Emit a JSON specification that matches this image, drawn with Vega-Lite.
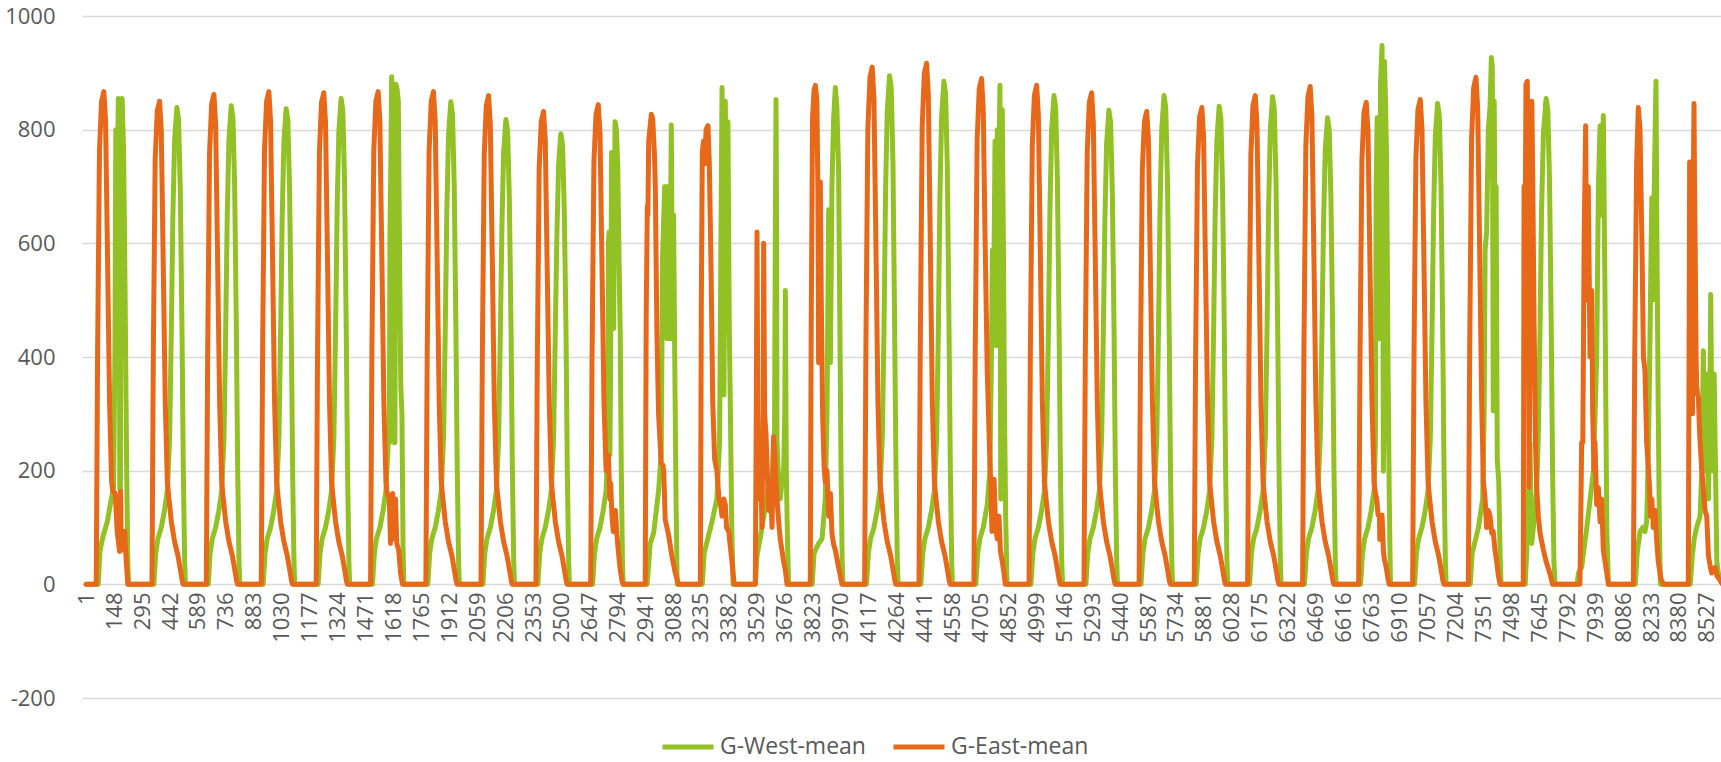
{
"$schema":"https://vega.github.io/schema/vega-lite/v6.json",
"width":1639,"height":682,
"autosize":{"type":"none"},
"padding":{"left":82,"right":0,"top":16,"bottom":64},
"background":"white",
"config":{"view":{"stroke":null},"font":"Open Sans","axisX":{"labelOverlap":false},"axisY":{"labelOverlap":false}},
"datasets":{
"west":[
{"x":1,"v":0},
{"x":64,"v":0},{"x":74,"v":60},{"x":90,"v":85},{"x":112,"v":110},{"x":133,"v":150},{"x":145,"v":170},{"x":152,"v":400},{"x":157,"v":800},{"x":163,"v":640},{"x":170,"v":855},{"x":175,"v":700},{"x":178,"v":167},{"x":181,"v":167},{"x":184,"v":830},{"x":190,"v":855},{"x":198,"v":760},{"x":206,"v":500},{"x":214,"v":200},{"x":220,"v":40},{"x":224,"v":0},
{"x":357,"v":0},{"x":367,"v":55},{"x":378,"v":80},{"x":396,"v":100},{"x":413,"v":130},{"x":428,"v":165},{"x":440,"v":260},{"x":449,"v":450},{"x":457,"v":646},{"x":466,"v":780},{"x":478,"v":839},{"x":487,"v":818},{"x":496,"v":696},{"x":505,"v":450},{"x":512,"v":200},{"x":519,"v":40},{"x":523,"v":0},
{"x":643,"v":0},{"x":653,"v":55},{"x":664,"v":80},{"x":682,"v":100},{"x":699,"v":130},{"x":714,"v":165},{"x":726,"v":260},{"x":735,"v":450},{"x":743,"v":648},{"x":752,"v":783},{"x":764,"v":842},{"x":773,"v":821},{"x":782,"v":699},{"x":791,"v":450},{"x":798,"v":200},{"x":805,"v":40},{"x":809,"v":0},
{"x":932,"v":0},{"x":942,"v":55},{"x":953,"v":80},{"x":971,"v":100},{"x":988,"v":130},{"x":1003,"v":165},{"x":1015,"v":260},{"x":1024,"v":450},{"x":1032,"v":644},{"x":1041,"v":778},{"x":1053,"v":837},{"x":1062,"v":816},{"x":1071,"v":695},{"x":1080,"v":450},{"x":1087,"v":200},{"x":1094,"v":40},{"x":1098,"v":0},
{"x":1221,"v":0},{"x":1231,"v":55},{"x":1242,"v":80},{"x":1260,"v":100},{"x":1277,"v":130},{"x":1292,"v":165},{"x":1304,"v":260},{"x":1313,"v":450},{"x":1321,"v":658},{"x":1330,"v":795},{"x":1342,"v":855},{"x":1351,"v":834},{"x":1360,"v":710},{"x":1369,"v":450},{"x":1376,"v":200},{"x":1383,"v":40},{"x":1387,"v":0},
{"x":1507,"v":0},{"x":1517,"v":55},{"x":1528,"v":80},{"x":1546,"v":100},{"x":1563,"v":130},{"x":1578,"v":165},{"x":1590,"v":250},{"x":1596,"v":249},{"x":1599,"v":620},{"x":1604,"v":750},{"x":1608,"v":893},{"x":1613,"v":850},{"x":1619,"v":880},{"x":1622,"v":249},{"x":1625,"v":249},{"x":1630,"v":880},{"x":1637,"v":870},{"x":1643,"v":850},{"x":1650,"v":560},{"x":1656,"v":350},{"x":1662,"v":300},{"x":1668,"v":60},{"x":1672,"v":0},
{"x":1798,"v":0},{"x":1808,"v":55},{"x":1819,"v":80},{"x":1837,"v":100},{"x":1854,"v":130},{"x":1869,"v":165},{"x":1881,"v":260},{"x":1890,"v":450},{"x":1898,"v":654},{"x":1907,"v":790},{"x":1919,"v":849},{"x":1928,"v":828},{"x":1937,"v":705},{"x":1946,"v":450},{"x":1953,"v":200},{"x":1960,"v":40},{"x":1964,"v":0},
{"x":2088,"v":0},{"x":2098,"v":55},{"x":2109,"v":80},{"x":2127,"v":100},{"x":2144,"v":130},{"x":2159,"v":165},{"x":2171,"v":260},{"x":2180,"v":450},{"x":2188,"v":630},{"x":2197,"v":761},{"x":2209,"v":818},{"x":2218,"v":798},{"x":2227,"v":679},{"x":2236,"v":450},{"x":2243,"v":200},{"x":2250,"v":40},{"x":2254,"v":0},
{"x":2377,"v":0},{"x":2387,"v":55},{"x":2398,"v":80},{"x":2416,"v":100},{"x":2433,"v":130},{"x":2448,"v":165},{"x":2460,"v":260},{"x":2469,"v":450},{"x":2477,"v":611},{"x":2486,"v":737},{"x":2498,"v":793},{"x":2507,"v":773},{"x":2516,"v":658},{"x":2525,"v":450},{"x":2532,"v":200},{"x":2539,"v":40},{"x":2543,"v":0},
{"x":2665,"v":0},{"x":2675,"v":55},{"x":2686,"v":80},{"x":2704,"v":100},{"x":2721,"v":130},{"x":2736,"v":165},{"x":2746,"v":250},{"x":2748,"v":600},{"x":2752,"v":620},{"x":2756,"v":228},{"x":2760,"v":400},{"x":2765,"v":760},{"x":2770,"v":700},{"x":2776,"v":450},{"x":2783,"v":814},{"x":2790,"v":800},{"x":2797,"v":740},{"x":2803,"v":600},{"x":2810,"v":450},{"x":2816,"v":200},{"x":2822,"v":40},{"x":2826,"v":0},
{"x":2952,"v":0},{"x":2968,"v":72},{"x":2986,"v":90},{"x":3012,"v":164},{"x":3026,"v":230},{"x":3033,"v":574},{"x":3044,"v":700},{"x":3050,"v":560},{"x":3056,"v":432},{"x":3062,"v":700},{"x":3070,"v":432},{"x":3079,"v":808},{"x":3086,"v":432},{"x":3091,"v":650},{"x":3097,"v":400},{"x":3104,"v":150},{"x":3110,"v":0},
{"x":3242,"v":0},{"x":3252,"v":55},{"x":3267,"v":75},{"x":3293,"v":110},{"x":3319,"v":150},{"x":3333,"v":250},{"x":3340,"v":600},{"x":3346,"v":874},{"x":3351,"v":700},{"x":3356,"v":333},{"x":3363,"v":850},{"x":3368,"v":650},{"x":3373,"v":700},{"x":3377,"v":814},{"x":3384,"v":450},{"x":3390,"v":300},{"x":3397,"v":100},{"x":3404,"v":0},
{"x":3521,"v":0},{"x":3530,"v":50},{"x":3556,"v":100},{"x":3580,"v":150},{"x":3591,"v":180},{"x":3600,"v":130},{"x":3609,"v":180},{"x":3617,"v":250},{"x":3622,"v":250},{"x":3626,"v":600},{"x":3630,"v":853},{"x":3633,"v":600},{"x":3635,"v":250},{"x":3644,"v":180},{"x":3652,"v":150},{"x":3661,"v":180},{"x":3670,"v":200},{"x":3676,"v":300},{"x":3679,"v":517},{"x":3684,"v":200},{"x":3690,"v":80},{"x":3696,"v":0},
{"x":3820,"v":0},{"x":3830,"v":55},{"x":3854,"v":72},{"x":3872,"v":80},{"x":3889,"v":150},{"x":3898,"v":300},{"x":3907,"v":659},{"x":3916,"v":390},{"x":3924,"v":700},{"x":3933,"v":820},{"x":3942,"v":874},{"x":3950,"v":840},{"x":3959,"v":729},{"x":3966,"v":450},{"x":3972,"v":200},{"x":3978,"v":40},{"x":3982,"v":0},
{"x":4106,"v":0},{"x":4116,"v":55},{"x":4127,"v":80},{"x":4145,"v":100},{"x":4162,"v":130},{"x":4177,"v":165},{"x":4189,"v":260},{"x":4198,"v":450},{"x":4206,"v":689},{"x":4215,"v":832},{"x":4227,"v":895},{"x":4236,"v":873},{"x":4245,"v":743},{"x":4254,"v":450},{"x":4261,"v":200},{"x":4268,"v":40},{"x":4272,"v":0},
{"x":4392,"v":0},{"x":4402,"v":55},{"x":4413,"v":80},{"x":4431,"v":100},{"x":4448,"v":130},{"x":4463,"v":165},{"x":4475,"v":260},{"x":4484,"v":450},{"x":4492,"v":681},{"x":4501,"v":823},{"x":4513,"v":885},{"x":4522,"v":863},{"x":4531,"v":735},{"x":4540,"v":450},{"x":4547,"v":200},{"x":4554,"v":40},{"x":4558,"v":0},
{"x":4681,"v":0},{"x":4691,"v":55},{"x":4702,"v":80},{"x":4720,"v":100},{"x":4741,"v":140},{"x":4755,"v":200},{"x":4763,"v":400},{"x":4768,"v":588},{"x":4775,"v":500},{"x":4782,"v":780},{"x":4788,"v":420},{"x":4794,"v":800},{"x":4801,"v":700},{"x":4808,"v":878},{"x":4812,"v":150},{"x":4816,"v":150},{"x":4820,"v":835},{"x":4826,"v":600},{"x":4832,"v":300},{"x":4838,"v":120},{"x":4845,"v":0},
{"x":4971,"v":0},{"x":4981,"v":55},{"x":4992,"v":80},{"x":5010,"v":100},{"x":5027,"v":130},{"x":5042,"v":165},{"x":5054,"v":260},{"x":5063,"v":450},{"x":5071,"v":662},{"x":5080,"v":800},{"x":5092,"v":860},{"x":5101,"v":839},{"x":5110,"v":714},{"x":5119,"v":450},{"x":5126,"v":200},{"x":5133,"v":40},{"x":5137,"v":0},
{"x":5260,"v":0},{"x":5270,"v":55},{"x":5281,"v":80},{"x":5299,"v":100},{"x":5316,"v":130},{"x":5331,"v":165},{"x":5343,"v":260},{"x":5352,"v":450},{"x":5360,"v":642},{"x":5369,"v":776},{"x":5381,"v":834},{"x":5390,"v":813},{"x":5399,"v":692},{"x":5408,"v":450},{"x":5415,"v":200},{"x":5422,"v":40},{"x":5426,"v":0},
{"x":5550,"v":0},{"x":5560,"v":55},{"x":5571,"v":80},{"x":5589,"v":100},{"x":5606,"v":130},{"x":5621,"v":165},{"x":5633,"v":260},{"x":5642,"v":450},{"x":5650,"v":662},{"x":5659,"v":800},{"x":5671,"v":860},{"x":5680,"v":839},{"x":5689,"v":714},{"x":5698,"v":450},{"x":5705,"v":200},{"x":5712,"v":40},{"x":5716,"v":0},
{"x":5840,"v":0},{"x":5850,"v":55},{"x":5861,"v":80},{"x":5879,"v":100},{"x":5896,"v":130},{"x":5911,"v":165},{"x":5923,"v":260},{"x":5932,"v":450},{"x":5940,"v":648},{"x":5949,"v":782},{"x":5961,"v":841},{"x":5970,"v":820},{"x":5979,"v":698},{"x":5988,"v":450},{"x":5995,"v":200},{"x":6002,"v":40},{"x":6006,"v":0},
{"x":6121,"v":0},{"x":6131,"v":55},{"x":6142,"v":80},{"x":6160,"v":100},{"x":6177,"v":130},{"x":6192,"v":165},{"x":6204,"v":260},{"x":6213,"v":450},{"x":6221,"v":661},{"x":6230,"v":798},{"x":6242,"v":858},{"x":6251,"v":837},{"x":6260,"v":712},{"x":6269,"v":450},{"x":6276,"v":200},{"x":6283,"v":40},{"x":6287,"v":0},
{"x":6410,"v":0},{"x":6420,"v":55},{"x":6431,"v":80},{"x":6449,"v":100},{"x":6466,"v":130},{"x":6481,"v":165},{"x":6493,"v":260},{"x":6502,"v":450},{"x":6510,"v":632},{"x":6519,"v":764},{"x":6531,"v":821},{"x":6540,"v":800},{"x":6549,"v":681},{"x":6558,"v":450},{"x":6565,"v":200},{"x":6572,"v":40},{"x":6576,"v":0},
{"x":6705,"v":0},{"x":6715,"v":55},{"x":6726,"v":80},{"x":6744,"v":100},{"x":6761,"v":130},{"x":6776,"v":165},{"x":6783,"v":250},{"x":6787,"v":700},{"x":6792,"v":821},{"x":6797,"v":600},{"x":6804,"v":432},{"x":6810,"v":880},{"x":6818,"v":948},{"x":6822,"v":600},{"x":6825,"v":199},{"x":6828,"v":300},{"x":6831,"v":920},{"x":6836,"v":850},{"x":6842,"v":743},{"x":6849,"v":400},{"x":6856,"v":150},{"x":6862,"v":0},
{"x":6989,"v":0},{"x":6999,"v":55},{"x":7010,"v":80},{"x":7028,"v":100},{"x":7045,"v":130},{"x":7060,"v":165},{"x":7072,"v":260},{"x":7081,"v":450},{"x":7089,"v":651},{"x":7098,"v":787},{"x":7110,"v":846},{"x":7119,"v":825},{"x":7128,"v":702},{"x":7137,"v":450},{"x":7144,"v":200},{"x":7151,"v":40},{"x":7155,"v":0},
{"x":7282,"v":0},{"x":7292,"v":55},{"x":7307,"v":75},{"x":7325,"v":100},{"x":7347,"v":150},{"x":7355,"v":300},{"x":7360,"v":588},{"x":7368,"v":620},{"x":7377,"v":800},{"x":7386,"v":840},{"x":7393,"v":927},{"x":7398,"v":910},{"x":7403,"v":305},{"x":7408,"v":850},{"x":7413,"v":539},{"x":7418,"v":700},{"x":7424,"v":220},{"x":7432,"v":180},{"x":7439,"v":50},{"x":7444,"v":0},
{"x":7571,"v":0},{"x":7582,"v":80},{"x":7589,"v":164},{"x":7596,"v":250},{"x":7605,"v":72},{"x":7614,"v":100},{"x":7623,"v":130},{"x":7631,"v":165},{"x":7640,"v":260},{"x":7649,"v":450},{"x":7657,"v":658},{"x":7667,"v":795},{"x":7681,"v":855},{"x":7690,"v":834},{"x":7699,"v":710},{"x":7708,"v":450},{"x":7715,"v":200},{"x":7722,"v":40},{"x":7728,"v":0},
{"x":7845,"v":0},{"x":7851,"v":20},{"x":7868,"v":30},{"x":7895,"v":100},{"x":7930,"v":200},{"x":7947,"v":400},{"x":7956,"v":700},{"x":7965,"v":807},{"x":7973,"v":650},{"x":7982,"v":825},{"x":7991,"v":500},{"x":8000,"v":100},{"x":8009,"v":0},
{"x":8150,"v":0},{"x":8160,"v":55},{"x":8175,"v":93},{"x":8190,"v":100},{"x":8201,"v":93},{"x":8210,"v":110},{"x":8220,"v":250},{"x":8230,"v":500},{"x":8237,"v":680},{"x":8242,"v":500},{"x":8250,"v":700},{"x":8259,"v":885},{"x":8264,"v":600},{"x":8271,"v":300},{"x":8277,"v":100},{"x":8282,"v":0},
{"x":8439,"v":0},{"x":8450,"v":50},{"x":8460,"v":80},{"x":8473,"v":100},{"x":8491,"v":120},{"x":8500,"v":200},{"x":8508,"v":411},{"x":8513,"v":250},{"x":8517,"v":200},{"x":8522,"v":330},{"x":8526,"v":370},{"x":8531,"v":200},{"x":8535,"v":150},{"x":8542,"v":300},{"x":8547,"v":510},{"x":8552,"v":300},{"x":8558,"v":200},{"x":8565,"v":370},{"x":8570,"v":250},{"x":8579,"v":40},{"x":8587,"v":20},{"x":8596,"v":10},{"x":8610,"v":0}
],
"east":[
{"x":1,"v":0},
{"x":54,"v":0},{"x":61,"v":407},{"x":71,"v":763},{"x":82,"v":850},{"x":94,"v":867},{"x":103,"v":815},{"x":112,"v":607},{"x":124,"v":320},{"x":135,"v":180},{"x":141,"v":164},{"x":154,"v":160},{"x":164,"v":93},{"x":177,"v":58},{"x":182,"v":164},{"x":186,"v":60},{"x":195,"v":90},{"x":203,"v":93},{"x":212,"v":40},{"x":220,"v":0},
{"x":347,"v":0},{"x":354,"v":400},{"x":364,"v":748},{"x":375,"v":833},{"x":387,"v":850},{"x":396,"v":799},{"x":405,"v":595},{"x":417,"v":320},{"x":428,"v":180},{"x":435,"v":155},{"x":449,"v":110},{"x":466,"v":75},{"x":484,"v":50},{"x":497,"v":25},{"x":507,"v":5},{"x":512,"v":0},
{"x":633,"v":0},{"x":640,"v":405},{"x":650,"v":759},{"x":661,"v":845},{"x":673,"v":862},{"x":682,"v":810},{"x":691,"v":603},{"x":703,"v":320},{"x":714,"v":180},{"x":721,"v":155},{"x":735,"v":110},{"x":752,"v":75},{"x":770,"v":50},{"x":783,"v":25},{"x":793,"v":5},{"x":798,"v":0},
{"x":922,"v":0},{"x":929,"v":407},{"x":939,"v":763},{"x":950,"v":850},{"x":962,"v":867},{"x":971,"v":815},{"x":980,"v":607},{"x":992,"v":320},{"x":1003,"v":180},{"x":1010,"v":155},{"x":1024,"v":110},{"x":1041,"v":75},{"x":1059,"v":50},{"x":1072,"v":25},{"x":1082,"v":5},{"x":1087,"v":0},
{"x":1211,"v":0},{"x":1218,"v":407},{"x":1228,"v":761},{"x":1239,"v":848},{"x":1251,"v":865},{"x":1260,"v":813},{"x":1269,"v":606},{"x":1281,"v":320},{"x":1292,"v":180},{"x":1299,"v":155},{"x":1313,"v":110},{"x":1330,"v":75},{"x":1348,"v":50},{"x":1361,"v":25},{"x":1371,"v":5},{"x":1376,"v":0},
{"x":1497,"v":0},{"x":1504,"v":407},{"x":1514,"v":763},{"x":1525,"v":850},{"x":1537,"v":867},{"x":1546,"v":815},{"x":1555,"v":607},{"x":1567,"v":320},{"x":1578,"v":180},{"x":1585,"v":157},{"x":1595,"v":157},{"x":1602,"v":72},{"x":1608,"v":150},{"x":1613,"v":160},{"x":1620,"v":80},{"x":1628,"v":150},{"x":1635,"v":72},{"x":1645,"v":60},{"x":1655,"v":20},{"x":1665,"v":0},
{"x":1788,"v":0},{"x":1795,"v":407},{"x":1805,"v":763},{"x":1816,"v":850},{"x":1828,"v":867},{"x":1837,"v":815},{"x":1846,"v":607},{"x":1858,"v":320},{"x":1869,"v":180},{"x":1876,"v":155},{"x":1890,"v":110},{"x":1907,"v":75},{"x":1925,"v":50},{"x":1938,"v":25},{"x":1948,"v":5},{"x":1953,"v":0},
{"x":2078,"v":0},{"x":2085,"v":404},{"x":2095,"v":757},{"x":2106,"v":843},{"x":2118,"v":860},{"x":2127,"v":808},{"x":2136,"v":602},{"x":2148,"v":320},{"x":2159,"v":180},{"x":2166,"v":155},{"x":2180,"v":110},{"x":2197,"v":75},{"x":2215,"v":50},{"x":2228,"v":25},{"x":2238,"v":5},{"x":2243,"v":0},
{"x":2367,"v":0},{"x":2374,"v":391},{"x":2384,"v":732},{"x":2395,"v":815},{"x":2407,"v":832},{"x":2416,"v":782},{"x":2425,"v":582},{"x":2437,"v":320},{"x":2448,"v":180},{"x":2455,"v":155},{"x":2469,"v":110},{"x":2486,"v":75},{"x":2504,"v":50},{"x":2517,"v":25},{"x":2527,"v":5},{"x":2532,"v":0},
{"x":2655,"v":0},{"x":2662,"v":397},{"x":2672,"v":743},{"x":2683,"v":827},{"x":2695,"v":844},{"x":2704,"v":793},{"x":2713,"v":591},{"x":2725,"v":320},{"x":2736,"v":200},{"x":2748,"v":228},{"x":2756,"v":150},{"x":2760,"v":178},{"x":2767,"v":120},{"x":2774,"v":93},{"x":2785,"v":130},{"x":2792,"v":90},{"x":2800,"v":60},{"x":2809,"v":30},{"x":2820,"v":5},{"x":2826,"v":0},
{"x":2942,"v":0},{"x":2944,"v":200},{"x":2947,"v":475},{"x":2953,"v":666},{"x":2956,"v":650},{"x":2960,"v":780},{"x":2974,"v":827},{"x":2981,"v":820},{"x":2990,"v":760},{"x":2995,"v":700},{"x":3003,"v":450},{"x":3012,"v":300},{"x":3026,"v":213},{"x":3035,"v":210},{"x":3039,"v":200},{"x":3047,"v":114},{"x":3065,"v":86},{"x":3082,"v":50},{"x":3100,"v":20},{"x":3117,"v":0},
{"x":3232,"v":0},{"x":3237,"v":500},{"x":3242,"v":760},{"x":3249,"v":780},{"x":3256,"v":740},{"x":3262,"v":800},{"x":3272,"v":807},{"x":3279,"v":740},{"x":3288,"v":560},{"x":3297,"v":320},{"x":3307,"v":220},{"x":3319,"v":199},{"x":3330,"v":150},{"x":3337,"v":143},{"x":3346,"v":120},{"x":3355,"v":150},{"x":3363,"v":140},{"x":3370,"v":100},{"x":3381,"v":93},{"x":3398,"v":40},{"x":3410,"v":0},
{"x":3521,"v":0},{"x":3526,"v":300},{"x":3530,"v":620},{"x":3534,"v":300},{"x":3539,"v":150},{"x":3547,"v":250},{"x":3556,"v":100},{"x":3562,"v":300},{"x":3565,"v":600},{"x":3570,"v":300},{"x":3577,"v":265},{"x":3584,"v":200},{"x":3591,"v":130},{"x":3600,"v":180},{"x":3609,"v":100},{"x":3617,"v":260},{"x":3626,"v":210},{"x":3635,"v":150},{"x":3644,"v":110},{"x":3652,"v":80},{"x":3661,"v":60},{"x":3670,"v":40},{"x":3679,"v":25},{"x":3688,"v":0},
{"x":3810,"v":0},{"x":3815,"v":450},{"x":3822,"v":820},{"x":3830,"v":870},{"x":3837,"v":878},{"x":3845,"v":850},{"x":3850,"v":700},{"x":3854,"v":390},{"x":3858,"v":600},{"x":3863,"v":708},{"x":3868,"v":500},{"x":3875,"v":300},{"x":3883,"v":206},{"x":3889,"v":180},{"x":3898,"v":200},{"x":3907,"v":120},{"x":3916,"v":160},{"x":3924,"v":90},{"x":3933,"v":70},{"x":3942,"v":60},{"x":3959,"v":30},{"x":3977,"v":0},
{"x":4096,"v":0},{"x":4103,"v":428},{"x":4113,"v":801},{"x":4124,"v":892},{"x":4136,"v":910},{"x":4145,"v":855},{"x":4154,"v":637},{"x":4166,"v":320},{"x":4177,"v":180},{"x":4184,"v":155},{"x":4198,"v":110},{"x":4215,"v":75},{"x":4233,"v":50},{"x":4246,"v":25},{"x":4256,"v":5},{"x":4261,"v":0},
{"x":4382,"v":0},{"x":4389,"v":431},{"x":4399,"v":807},{"x":4410,"v":899},{"x":4422,"v":917},{"x":4431,"v":862},{"x":4440,"v":642},{"x":4452,"v":320},{"x":4463,"v":180},{"x":4470,"v":155},{"x":4484,"v":110},{"x":4501,"v":75},{"x":4519,"v":50},{"x":4532,"v":25},{"x":4542,"v":5},{"x":4547,"v":0},
{"x":4671,"v":0},{"x":4678,"v":420},{"x":4688,"v":783},{"x":4699,"v":872},{"x":4711,"v":890},{"x":4720,"v":837},{"x":4729,"v":623},{"x":4741,"v":376},{"x":4752,"v":250},{"x":4759,"v":180},{"x":4766,"v":93},{"x":4771,"v":160},{"x":4777,"v":185},{"x":4785,"v":100},{"x":4794,"v":80},{"x":4803,"v":120},{"x":4810,"v":60},{"x":4820,"v":40},{"x":4829,"v":20},{"x":4836,"v":0},
{"x":4961,"v":0},{"x":4968,"v":413},{"x":4978,"v":773},{"x":4989,"v":860},{"x":5001,"v":878},{"x":5010,"v":825},{"x":5019,"v":615},{"x":5031,"v":320},{"x":5042,"v":180},{"x":5049,"v":155},{"x":5063,"v":110},{"x":5080,"v":75},{"x":5098,"v":50},{"x":5111,"v":25},{"x":5121,"v":5},{"x":5126,"v":0},
{"x":5250,"v":0},{"x":5257,"v":407},{"x":5267,"v":761},{"x":5278,"v":848},{"x":5290,"v":865},{"x":5299,"v":813},{"x":5308,"v":606},{"x":5320,"v":320},{"x":5331,"v":180},{"x":5338,"v":155},{"x":5352,"v":110},{"x":5369,"v":75},{"x":5387,"v":50},{"x":5400,"v":25},{"x":5410,"v":5},{"x":5415,"v":0},
{"x":5540,"v":0},{"x":5547,"v":391},{"x":5557,"v":732},{"x":5568,"v":815},{"x":5580,"v":832},{"x":5589,"v":782},{"x":5598,"v":582},{"x":5610,"v":320},{"x":5621,"v":180},{"x":5628,"v":155},{"x":5642,"v":110},{"x":5659,"v":75},{"x":5677,"v":50},{"x":5690,"v":25},{"x":5700,"v":5},{"x":5705,"v":0},
{"x":5830,"v":0},{"x":5837,"v":394},{"x":5847,"v":738},{"x":5858,"v":822},{"x":5870,"v":839},{"x":5879,"v":789},{"x":5888,"v":587},{"x":5900,"v":320},{"x":5911,"v":180},{"x":5918,"v":155},{"x":5932,"v":110},{"x":5949,"v":75},{"x":5967,"v":50},{"x":5980,"v":25},{"x":5990,"v":5},{"x":5995,"v":0},
{"x":6111,"v":0},{"x":6118,"v":404},{"x":6128,"v":757},{"x":6139,"v":843},{"x":6151,"v":860},{"x":6160,"v":808},{"x":6169,"v":602},{"x":6181,"v":320},{"x":6192,"v":180},{"x":6199,"v":155},{"x":6213,"v":110},{"x":6230,"v":75},{"x":6248,"v":50},{"x":6261,"v":25},{"x":6271,"v":5},{"x":6276,"v":0},
{"x":6400,"v":0},{"x":6407,"v":412},{"x":6417,"v":771},{"x":6428,"v":858},{"x":6440,"v":876},{"x":6449,"v":823},{"x":6458,"v":613},{"x":6470,"v":320},{"x":6481,"v":180},{"x":6488,"v":155},{"x":6502,"v":110},{"x":6519,"v":75},{"x":6537,"v":50},{"x":6550,"v":25},{"x":6560,"v":5},{"x":6565,"v":0},
{"x":6695,"v":0},{"x":6702,"v":399},{"x":6712,"v":746},{"x":6723,"v":831},{"x":6735,"v":848},{"x":6744,"v":797},{"x":6753,"v":594},{"x":6765,"v":320},{"x":6776,"v":180},{"x":6783,"v":160},{"x":6790,"v":150},{"x":6797,"v":122},{"x":6804,"v":122},{"x":6806,"v":79},{"x":6813,"v":100},{"x":6818,"v":122},{"x":6825,"v":60},{"x":6830,"v":44},{"x":6840,"v":30},{"x":6849,"v":10},{"x":6856,"v":0},
{"x":6979,"v":0},{"x":6986,"v":401},{"x":6996,"v":751},{"x":7007,"v":836},{"x":7019,"v":853},{"x":7028,"v":802},{"x":7037,"v":597},{"x":7049,"v":320},{"x":7060,"v":180},{"x":7067,"v":155},{"x":7081,"v":110},{"x":7098,"v":75},{"x":7116,"v":50},{"x":7129,"v":25},{"x":7139,"v":5},{"x":7144,"v":0},
{"x":7272,"v":0},{"x":7279,"v":419},{"x":7289,"v":785},{"x":7300,"v":874},{"x":7312,"v":892},{"x":7321,"v":838},{"x":7330,"v":624},{"x":7342,"v":320},{"x":7351,"v":180},{"x":7360,"v":150},{"x":7368,"v":100},{"x":7377,"v":130},{"x":7386,"v":120},{"x":7395,"v":90},{"x":7403,"v":93},{"x":7412,"v":60},{"x":7421,"v":40},{"x":7430,"v":15},{"x":7439,"v":0},
{"x":7561,"v":0},{"x":7565,"v":700},{"x":7570,"v":560},{"x":7575,"v":880},{"x":7582,"v":885},{"x":7587,"v":700},{"x":7591,"v":171},{"x":7596,"v":400},{"x":7601,"v":729},{"x":7606,"v":850},{"x":7611,"v":700},{"x":7618,"v":450},{"x":7625,"v":250},{"x":7631,"v":171},{"x":7640,"v":120},{"x":7649,"v":90},{"x":7667,"v":60},{"x":7681,"v":40},{"x":7700,"v":20},{"x":7715,"v":0},
{"x":7859,"v":0},{"x":7868,"v":249},{"x":7874,"v":249},{"x":7881,"v":600},{"x":7889,"v":807},{"x":7895,"v":500},{"x":7903,"v":700},{"x":7912,"v":400},{"x":7921,"v":517},{"x":7926,"v":300},{"x":7933,"v":200},{"x":7938,"v":250},{"x":7947,"v":140},{"x":7956,"v":170},{"x":7965,"v":110},{"x":7973,"v":150},{"x":7982,"v":60},{"x":7991,"v":40},{"x":8000,"v":20},{"x":8009,"v":0},
{"x":8140,"v":0},{"x":8147,"v":394},{"x":8157,"v":738},{"x":8166,"v":839},{"x":8175,"v":800},{"x":8185,"v":600},{"x":8193,"v":400},{"x":8201,"v":376},{"x":8210,"v":250},{"x":8224,"v":178},{"x":8230,"v":120},{"x":8237,"v":150},{"x":8245,"v":100},{"x":8254,"v":130},{"x":8262,"v":80},{"x":8271,"v":40},{"x":8285,"v":10},{"x":8298,"v":0},
{"x":8429,"v":0},{"x":8432,"v":300},{"x":8436,"v":743},{"x":8442,"v":743},{"x":8447,"v":400},{"x":8451,"v":300},{"x":8455,"v":700},{"x":8459,"v":846},{"x":8462,"v":700},{"x":8465,"v":602},{"x":8470,"v":400},{"x":8473,"v":350},{"x":8478,"v":333},{"x":8482,"v":330},{"x":8487,"v":280},{"x":8491,"v":250},{"x":8500,"v":200},{"x":8508,"v":170},{"x":8517,"v":130},{"x":8526,"v":120},{"x":8535,"v":50},{"x":8545,"v":30},{"x":8552,"v":20},{"x":8560,"v":25},{"x":8570,"v":30},{"x":8580,"v":15},{"x":8590,"v":10},{"x":8610,"v":0}
]
},
"encoding":{
  "x":{"field":"x","type":"quantitative","title":null,
       "scale":{"domain":[-21,8601],"nice":false,"zero":false},
       "axis":{"values":[1,148,295,442,589,736,883,1030,1177,1324,1471,1618,1765,1912,2059,2206,2353,2500,2647,2794,2941,3088,3235,3382,3529,3676,3823,3970,4117,4264,4411,4558,4705,4852,4999,5146,5293,5440,5587,5734,5881,6028,6175,6322,6469,6616,6763,6910,7057,7204,7351,7498,7645,7792,7939,8086,8233,8380,8527],
               "labelExpr":"'' + datum.value","labelAngle":-90,"labelFontSize":22,"labelFont":"Open Sans","labelColor":"#595959","labelPadding":8,
               "ticks":false,"domain":false,"grid":false,"offset":-114,"labelOverlap":false,"labelFlush":false,"labelBound":false}},
  "y":{"field":"v","type":"quantitative","title":null,
       "scale":{"domain":[-200,1000],"nice":false,"zero":false},
       "axis":{"values":[-200,0,200,400,600,800,1000],"labelExpr":"'' + datum.value","labelFontSize":22,"labelFont":"Open Sans","labelColor":"#595959","labelPadding":27,
               "ticks":false,"domain":false,"grid":true,"gridColor":"#d9d9d9","gridWidth":1.3,"labelOverlap":false}}
},
"layer":[
{"data":{"name":"west"},
 "mark":{"type":"line","strokeWidth":5,"strokeJoin":"round","strokeCap":"round","clip":true},
 "encoding":{
  "color":{"datum":"G-West-mean","type":"nominal",
       "scale":{"domain":["G-West-mean","G-East-mean"],"range":["#92c125","#e8681a"]},
       "legend":{"orient":"none","legendX":578,"legendY":703,"direction":"horizontal","title":null,
                 "symbolType":"stroke","symbolSize":2600,"symbolStrokeWidth":5,
                 "labelFontSize":23,"labelFont":"Open Sans","labelColor":"#595959","labelOffset":4,"columnPadding":17}}
 }},
{"data":{"name":"east"},
 "mark":{"type":"line","strokeWidth":5,"strokeJoin":"round","strokeCap":"round","clip":true},
 "encoding":{
  "color":{"datum":"G-East-mean","type":"nominal"}
 }}
]
}
